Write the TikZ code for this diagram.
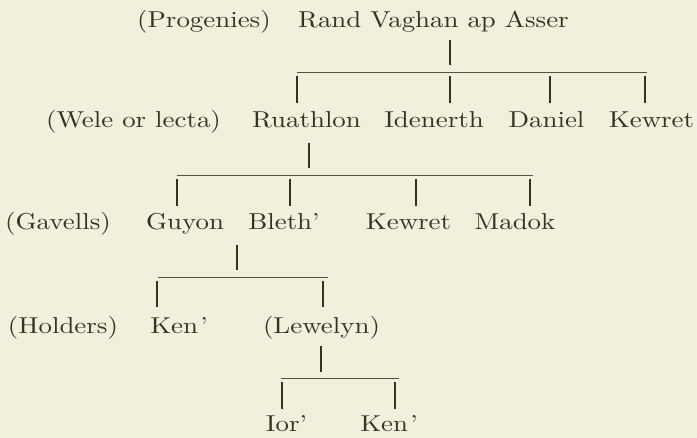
\documentclass[tikz,border=0pt]{standalone}
\usepackage{graphicx}
\definecolor{paper}{RGB}{242,240,218}
\definecolor{ink}{RGB}{52,50,40}
\newcommand\wtxt[1]{\scalebox{2.69}[2.3]{#1}}
\begin{document}
\begin{tikzpicture}[x=1pt,y=-1pt,
  txt/.style={text=ink,inner sep=0pt,anchor=base,font=\fontsize{10}{12}\selectfont},
  vline/.style={draw=ink,line width=1.3pt},
  hline/.style={draw=ink!85,line width=1pt}]
\fill[paper] (0,0) rectangle (697,438);
\useasboundingbox (0,0) rectangle (697,438);
% row 1
\node[txt] (prog) at (204,28) {\wtxt{(Progenies)}};
\node[txt] (rand) at (433.5,28) {\wtxt{Rand Vaghan ap Asser}};
% row 2
\node[txt] (wele) at (133.5,128) {\wtxt{(Wele or lecta)}};
\node[txt] (ruath) at (306.5,128) {\wtxt{Ruathlon}};
\node[txt] (iden) at (434,128) {\wtxt{Idenerth}};
\node[txt] (dan) at (546.5,128) {\wtxt{Daniel}};
\node[txt] (kewa) at (651.5,128) {\wtxt{Kewret}};
% row 3
\node[txt] (gav) at (58,230) {\wtxt{(Gavells)}};
\node[txt] (guy) at (185,230) {\wtxt{Guyon}};
\node[txt] (bleth) at (284,230) {\wtxt{Bleth'}};
\node[txt] (kewb) at (408.5,230) {\wtxt{Kewret}};
\node[txt] (mad) at (515,230) {\wtxt{Madok}};
% row 4
\node[txt] (hold) at (63,334) {\wtxt{(Holders)}};
\node[txt] (kena) at (179,334) {\wtxt{Ken\kern0.8pt'}};
\node[txt] (lew) at (321.5,334) {\wtxt{(Lewelyn)}};
% row 5
\node[txt] (ior) at (286.5,432) {\wtxt{Ior'}};
\node[txt] (kenb) at (389,432) {\wtxt{Ken\kern0.8pt'}};
% level 1 connectors
\coordinate (v1t) at (450,40); \coordinate (v1b) at (450,65);
\draw[vline] (v1t) -- (v1b);
\coordinate (b1l) at (297,73); \coordinate (b1r) at (647,73);
\draw[hline] (b1l) -- (b1r);
\foreach \n/\x in {ruath/297,iden/450,dan/550,kewa/645}{
  \coordinate (\n-t) at (\x,76); \coordinate (\n-b) at (\x,103);
  \draw[vline] (\n-t) -- (\n-b);}
% level 2 connectors
\coordinate (v2t) at (309,143); \coordinate (v2b) at (309,168);
\draw[vline] (v2t) -- (v2b);
\coordinate (b2l) at (177,176); \coordinate (b2r) at (533,176);
\draw[hline] (b2l) -- (b2r);
\foreach \n/\x in {guy/177,bleth/290,kewb/416,mad/530}{
  \coordinate (\n-t) at (\x,179); \coordinate (\n-b) at (\x,206);
  \draw[vline] (\n-t) -- (\n-b);}
% level 3 connectors
\coordinate (v3t) at (237,245); \coordinate (v3b) at (237,270);
\draw[vline] (v3t) -- (v3b);
\coordinate (b3l) at (158,278); \coordinate (b3r) at (328,278);
\draw[hline] (b3l) -- (b3r);
\foreach \n/\x in {kena/157,lew/323}{
  \coordinate (\n-t) at (\x,281); \coordinate (\n-b) at (\x,307);
  \draw[vline] (\n-t) -- (\n-b);}
% level 4 connectors
\coordinate (v4t) at (321,346); \coordinate (v4b) at (321,372);
\draw[vline] (v4t) -- (v4b);
\coordinate (b4l) at (281,379); \coordinate (b4r) at (399,379);
\draw[hline] (b4l) -- (b4r);
\foreach \n/\x in {ior/282,kenb/395}{
  \coordinate (\n-t) at (\x,382); \coordinate (\n-b) at (\x,409);
  \draw[vline] (\n-t) -- (\n-b);}
\end{tikzpicture}
\end{document}
